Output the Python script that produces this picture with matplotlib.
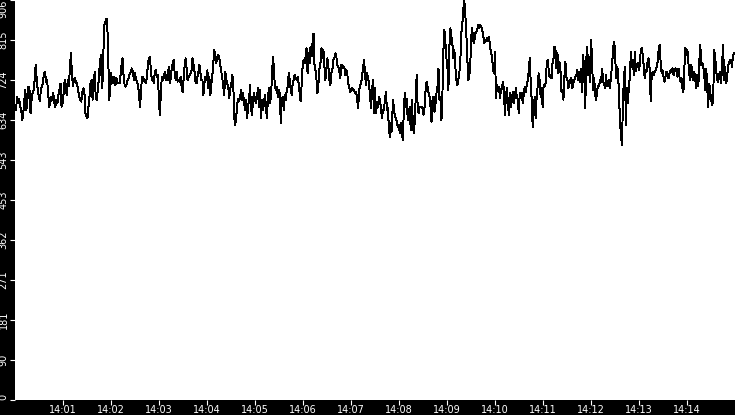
import numpy as np
import matplotlib
matplotlib.use("Agg")
import matplotlib.pyplot as plt
from matplotlib.ticker import FuncFormatter, FixedLocator

# ---- data: values sampled over six 150-second segments starting 14:00:00 ----
seg1 = [664, 657, 687, 672, 683, 664, 657, 634, 649, 680, 702, 657, 680, 710, 702, 649, 680, 695, 702, 725,
        759, 725, 702, 687, 676, 702, 710, 717, 740, 744, 721, 725, 698, 664, 672, 687, 680, 695, 672, 664,
        680, 672, 691, 702, 717, 664, 672, 695, 725, 702, 691, 725, 710, 747, 785, 740, 710, 725, 729, 717,
        717, 702, 687, 680, 676, 695, 706, 702, 649, 642, 638, 664, 687, 717, 725, 680, 706, 744, 687, 680,
        702, 725, 763, 781, 706, 732, 846, 853, 864, 861, 793, 680, 702, 740, 717, 717, 732, 713, 729, 717,
        717, 717, 736, 759, 774, 732, 713, 710, 717, 725, 729, 740, 744, 751, 744, 725]
seg2 = [740, 725, 721, 713, 695, 664, 695, 732, 732, 725, 721, 717, 732, 759, 774, 778, 747, 725, 729, 717,
        744, 747, 732, 736, 687, 646, 687, 732, 725, 729, 744, 725, 736, 725, 755, 717, 729, 751, 763, 770,
        740, 725, 744, 721, 725, 721, 732, 710, 698, 725, 755, 774, 751, 725, 732, 736, 740, 747, 774, 759,
        744, 721, 717, 732, 744, 759, 740, 725, 725, 691, 717, 732, 725, 747, 706, 732, 691, 717, 736, 763,
        793, 770, 763, 778, 781, 774, 759, 744, 729, 710, 691, 744, 725, 717, 710, 683, 706, 713, 736, 725,
        642, 623, 638, 668, 683, 676, 687, 702, 680, 695, 672, 657, 680, 638, 664, 680, 713, 661, 646, 680,
        695]
seg3 = [680, 672, 687, 706, 664, 702, 638, 680, 657, 672, 691, 664, 638, 680, 706, 672, 687, 725, 778, 755,
        710, 702, 710, 687, 702, 695, 627, 680, 687, 657, 691, 680, 702, 710, 740, 725, 702, 691, 717, 725,
        736, 729, 725, 732, 717, 695, 676, 713, 755, 770, 763, 778, 797, 740, 785, 763, 800, 778, 808, 830,
        759, 747, 725, 695, 717, 751, 763, 797, 774, 793, 755, 725, 747, 774, 755, 725, 713, 740, 747, 770,
        774, 785, 778, 759, 755, 744, 729, 759, 759, 751, 755, 736, 747, 740, 717, 710, 698, 702, 706, 702,
        702, 695, 698, 680, 661, 702, 713, 717, 732, 755, 770, 736, 713, 740, 729, 717, 687, 661, 702, 725,
        649]
seg4 = [706, 649, 672, 664, 687, 680, 661, 638, 657, 657, 680, 698, 657, 661, 615, 596, 627, 608, 680, 664,
        642, 638, 630, 619, 623, 604, 627, 612, 589, 649, 695, 664, 683, 634, 646, 664, 612, 680, 638, 604,
        627, 680, 736, 664, 649, 664, 664, 664, 661, 646, 664, 702, 721, 710, 695, 687, 664, 630, 680, 687,
        653, 672, 695, 710, 751, 680, 687, 634, 695, 793, 838, 808, 774, 755, 702, 800, 842, 823, 808, 774,
        793, 755, 725, 713, 725, 740, 766, 830, 849, 883, 906, 876, 834, 778, 725, 732, 755, 823, 842, 815,
        808, 830, 834, 838, 849, 842, 849, 846, 838, 830, 808, 815, 812, 819, 812, 823, 800, 785, 781, 747,
        740]
seg5 = [789, 683, 713, 702, 710, 683, 702, 706, 721, 702, 646, 687, 706, 672, 646, 695, 664, 680, 698, 672,
        687, 706, 687, 680, 649, 695, 687, 695, 672, 691, 710, 698, 713, 725, 744, 774, 721, 680, 619, 649,
        687, 638, 687, 710, 740, 725, 687, 706, 664, 713, 710, 717, 755, 770, 751, 732, 736, 729, 763, 774,
        800, 793, 751, 785, 740, 766, 747, 698, 702, 680, 732, 766, 732, 725, 706, 717, 725, 729, 706, 717,
        725, 732, 736, 747, 725, 744, 721, 751, 698, 781, 736, 661, 770, 800, 736, 778, 721, 815, 755, 702,
        729, 691, 680, 702, 710, 713, 725, 721, 751, 721, 717, 706, 736, 710, 713, 725, 706, 736, 755, 793,
        812]
seg6 = [793, 729, 755, 747, 691, 634, 600, 578, 672, 732, 755, 623, 706, 672, 710, 732, 789, 755, 770, 736,
        789, 744, 759, 763, 747, 759, 793, 797, 781, 755, 729, 747, 744, 770, 774, 747, 676, 736, 744, 736,
        744, 747, 755, 766, 793, 804, 766, 740, 747, 732, 721, 732, 744, 736, 729, 740, 747, 744, 751, 736,
        747, 751, 744, 732, 751, 732, 721, 729, 706, 698, 755, 797, 781, 793, 766, 736, 725, 759, 732, 725,
        744, 725, 706, 736, 710, 766, 804, 759, 763, 755, 736, 702, 751, 706, 664, 717, 698, 680, 668, 680,
        793, 778, 747, 725, 721, 736, 744, 717, 763, 804, 725, 755, 717, 729, 759, 763, 770, 770, 755, 781,
        785]
segments = [seg1, seg2, seg3, seg4, seg5, seg6]
SEG_SECONDS = 150
Y_MAX = 906
x_tick_minutes = list(range(1, 15))

# ---- build series ----
times, vals = [], []
for i, seg in enumerate(segments):
    t = i * SEG_SECONDS + np.linspace(0, SEG_SECONDS, len(seg), endpoint=False)
    times.extend(t)
    vals.extend(seg)
times = np.array(times)
vals = np.array(vals, dtype=float)

W, H = 735, 415
fig = plt.figure(figsize=(W / 100, H / 100), dpi=100, facecolor="black")
ax = fig.add_axes([15 / W, 15 / H, 720 / W, 400 / H])
ax.set_facecolor("white")
ax.plot(times, vals, color="black", lw=0.7, antialiased=False)

ax.set_xlim(0, 15 * 60)
ax.set_ylim(0, Y_MAX)
for s in ax.spines.values():
    s.set_visible(False)

ax.xaxis.set_major_locator(FixedLocator([m * 60 for m in x_tick_minutes]))
ax.xaxis.set_major_formatter(FuncFormatter(lambda v, p: f"14:{int(round(v / 60)):02d}"))
yt = [Y_MAX * k / 10 for k in range(11)]
ax.yaxis.set_major_locator(FixedLocator(yt))
ax.yaxis.set_major_formatter(FuncFormatter(lambda v, p: str(int(v + 1e-6))))

ax.tick_params(axis="both", colors="white", direction="out", length=3.6, width=0.8,
               labelsize=7, labelcolor="white")
ax.tick_params(axis="x", pad=0)
ax.tick_params(axis="y", pad=1)
for lab in ax.get_yticklabels():
    lab.set_rotation(90)
    lab.set_va("center")
    lab.set_ha("right")
labs = ax.get_yticklabels()
labs[0].set_va("bottom")
labs[-1].set_va("top")

fig.savefig("out.png", dpi=100, facecolor="black")
